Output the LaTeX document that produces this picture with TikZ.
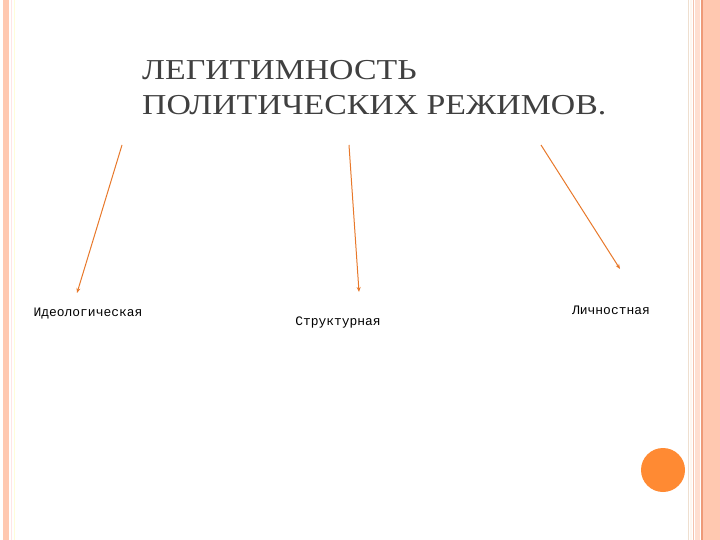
\documentclass[tikz,border=0pt]{standalone}
\usepackage{fontspec}
\setmainfont{Liberation Serif}
\newfontfamily\titlefont[FakeStretch=1.17]{Liberation Serif}
\newfontfamily\labelfont{Liberation Mono}
\usetikzlibrary{arrows.meta}
\definecolor{peach}{HTML}{FFC8B0}
\definecolor{peachline}{HTML}{EE9A78}
\definecolor{arroworange}{HTML}{E8782A}
\definecolor{dotorange}{HTML}{FF8A33}
\definecolor{titlegrey}{HTML}{404040}

\begin{document}
\begin{tikzpicture}[x=1bp,y=-1bp,
  title text/.style={font=\titlefont\fontsize{29}{35}\selectfont,text=titlegrey,
    align=left,anchor=north west,inner sep=0pt},
  kind label/.style={font=\labelfont\fontsize{13}{14}\selectfont,
    anchor=base,inner sep=0pt},
  kind arrow/.style={draw=arroworange,line width=1pt,
    -{Stealth[length=5bp,width=4bp]}}]

  \useasboundingbox (0,0) rectangle (720,540);
  \fill[white] (0,0) rectangle (720,540);

  % side bands
  \fill[peach] (3,0) rectangle (9,540);
  \draw[pink!40,line width=0.8bp] (11.5,0) -- (11.5,540);
  \draw[yellow!15,line width=0.8bp] (14.5,0) -- (14.5,540);
  \draw[brown!25,line width=0.8bp] (688.5,0) -- (688.5,540);
  \fill[orange!6] (690,0) rectangle (692,540);
  \draw[peachline!60,line width=0.8bp] (693,0) -- (693,540);
  \fill[peach!60] (695,0) rectangle (700,540);
  \fill[peachline] (700.5,0) rectangle (702.5,540);
  \fill[peach] (703,0) rectangle (720,540);

  \node[title text] (title) at (142,60)
    {ЛЕГИТИМНОСТЬ\\ПОЛИТИЧЕСКИХ РЕЖИМОВ.};

  \node[kind label] (ideo) at (88,316) {Идеологическая};
  \node[kind label] (struct) at (338,325) {Структурная};
  \node[kind label] (pers) at (611,314) {Личностная};

  \coordinate (ideo from) at (122,145);
  \coordinate (ideo to) at (77,293);
  \coordinate (struct from) at (349,145);
  \coordinate (struct to) at (359,292);
  \coordinate (pers from) at (541,145);
  \coordinate (pers to) at (620,269);

  \draw[kind arrow] (ideo from) -- (ideo to);
  \draw[kind arrow] (struct from) -- (struct to);
  \draw[kind arrow] (pers from) -- (pers to);

  \fill[dotorange] (663,470) circle (22);

\end{tikzpicture}
\end{document}
